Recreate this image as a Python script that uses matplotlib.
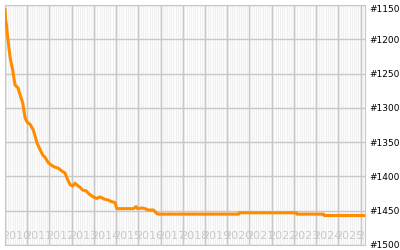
import numpy as np
import matplotlib
matplotlib.use("Agg")
import matplotlib.pyplot as plt

# rank history (fractional year, rank)
years = [2010.00, 2010.03, 2010.08, 2010.10, 2010.17, 2010.23, 2010.28, 2010.35,
         2010.41, 2010.46, 2010.59, 2010.64, 2010.71, 2010.80, 2010.86, 2010.91,
         2011.00, 2011.13, 2011.27, 2011.36, 2011.45, 2011.58, 2011.70, 2011.80,
         2011.95, 2012.06, 2012.21, 2012.40, 2012.55, 2012.70, 2012.81, 2012.93,
         2013.05, 2013.15, 2013.26, 2013.38, 2013.50, 2013.65, 2013.80, 2013.98,
         2014.13, 2014.28, 2014.46, 2014.61, 2014.81, 2014.95, 2015.03, 2015.78,
         2015.90, 2015.96, 2016.16, 2016.31, 2016.45, 2016.68, 2016.83, 2016.91,
         2020.51, 2020.55, 2023.11, 2023.14, 2024.34, 2024.37, 2026.25]
ranks = [1157, 1172, 1182, 1191, 1211, 1226, 1235, 1245,
         1259, 1267, 1271, 1277, 1284, 1293, 1306, 1315,
         1321, 1324, 1332, 1342, 1352, 1361, 1369, 1372,
         1380, 1383, 1386, 1388, 1392, 1395, 1404, 1412,
         1414, 1410, 1413, 1416, 1420, 1421, 1426, 1430,
         1432, 1430, 1433, 1434, 1437, 1438, 1447, 1447,
         1444, 1447, 1446, 1447, 1449, 1449, 1454, 1455,
         1455, 1453, 1453, 1455, 1455, 1457, 1457]

year_labels = list(range(2010, 2027))
rank_ticks = list(range(1150, 1501, 50))

fig = plt.figure(figsize=(4, 2.5), dpi=100)
ax = fig.add_axes([0.0125, 0.02, 0.9, 0.96])
ax.set_facecolor("#f0f0f0")

x0, x1 = 2010.0, 2026.2
ax.set_xlim(x0, x1)
ax.set_ylim(1500, 1150)

# monthly white stripes, yearly gray lines
for m in np.arange(2010, 2027, 1 / 12):
    ax.axvline(m, color="white", lw=0.6, zorder=0)
for y in year_labels:
    ax.axvline(y, color="#c8c8c8", lw=1, zorder=1)
for r in rank_ticks:
    ax.axhline(r, color="#c8c8c8", lw=1, zorder=1)

# year labels inside the plot
for y in year_labels:
    ax.text(y + 0.5, 1487, str(y), ha="center", va="center", fontsize=8,
            color="#c8c8c8", clip_on=True, zorder=2)

ax.plot(years, ranks, color="#ff8c00", lw=2.2, zorder=3)

ax.set_xticks([])
ax.yaxis.tick_right()
ax.set_yticks(rank_ticks)
ax.set_yticklabels([f"#{r}" for r in rank_ticks], fontsize=6.5)
ax.tick_params(axis="y", length=0, pad=3)
labels = ax.get_yticklabels()
labels[0].set_verticalalignment("top")
labels[-1].set_verticalalignment("center")
for s in ax.spines.values():
    s.set_color("#c8c8c8")

fig.savefig("out.png", dpi=100)
